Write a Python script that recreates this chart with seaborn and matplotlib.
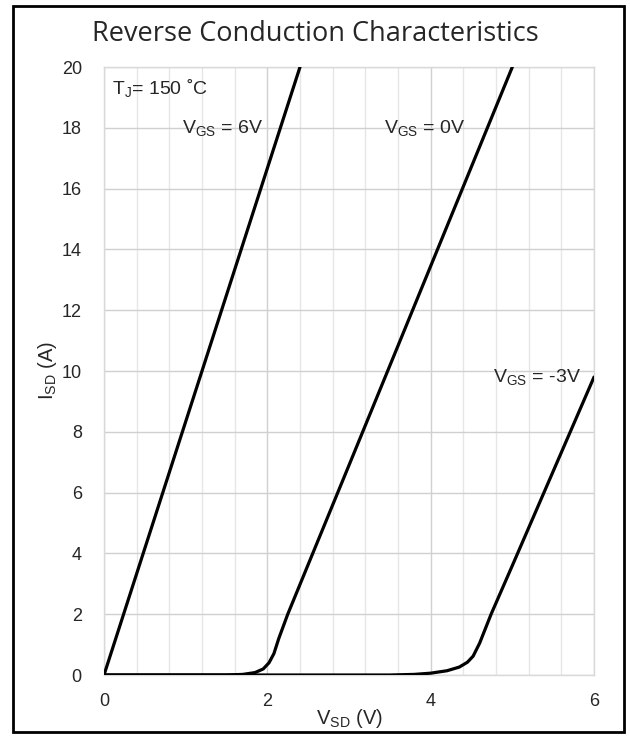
import matplotlib
matplotlib.use("Agg")
import matplotlib.pyplot as plt
from matplotlib.ticker import MultipleLocator
from matplotlib.patches import Rectangle
import seaborn as sns
import pandas as pd

# Data
v_6 = [0.0, 0.6, 1.2, 1.8, 2.4]
i_6 = [0.0, 5.0, 10.0, 15.0, 20.0]

v_0 = [0.0, 1.0, 1.5, 1.7, 1.85, 1.95, 2.02, 2.08, 2.14, 2.25, 3.0, 4.0, 5.0]
i_0 = [0.0, 0.0, 0.0, 0.02, 0.08, 0.2, 0.4, 0.7, 1.2, 2.0, 6.9, 13.45, 20.0]

v_m3 = [0.0, 2.0, 3.5, 3.8, 4.0, 4.2, 4.35, 4.45, 4.52, 4.6, 4.74, 5.0, 5.5, 6.0]
i_m3 = [0.0, 0.0, 0.0, 0.02, 0.06, 0.14, 0.26, 0.42, 0.62, 1.05, 2.0, 3.6, 6.7, 9.8]

series_names = ["VGS=6V", "VGS=0V", "VGS=-3V"]
x_ticks = [0, 2, 4, 6]
y_ticks = [0, 2, 4, 6, 8, 10, 12, 14, 16, 18, 20]

frames = []
for name, v, i in zip(series_names, [v_6, v_0, v_m3], [i_6, i_0, i_m3]):
    frames.append(pd.DataFrame({"V": v, "I": i, "series": name}))
df = pd.concat(frames, ignore_index=True)

sns.set_style("white")
plt.rcParams["font.family"] = ["Liberation Sans", "DejaVu Sans"]

fig = plt.figure(figsize=(6.3, 7.36), dpi=100)
ax = fig.add_axes([104 / 630, 1 - 675 / 736, 490 / 630, 608 / 736])

ax.set_axisbelow(True)
sns.lineplot(data=df, x="V", y="I", units="series", estimator=None, sort=False,
             color="black", linewidth=2.3, ax=ax, legend=False, zorder=3)

ax.set_xlim(0, 6)
ax.set_ylim(0, 20)
ax.set_xticks(x_ticks)
ax.set_yticks(y_ticks)
ax.xaxis.set_minor_locator(MultipleLocator(0.4))
ax.grid(which="major", color="#d0d0d0", linewidth=1.0)
ax.grid(which="minor", axis="x", color="#e6e6e6", linewidth=1.0)
for s in ax.spines.values():
    s.set_color("#d9d9d9")
    s.set_linewidth(1.0)
ax.tick_params(which="both", length=0)
ax.tick_params(axis="x", pad=13, labelsize=13)
ax.tick_params(axis="y", pad=16, labelsize=13)

ax.set_xlabel("V$_{\\mathregular{SD}}$ (V)", fontsize=14.5, labelpad=-2)
ax.set_ylabel("I$_{\\mathregular{SD}}$ (A)", fontsize=14.5, labelpad=2)

ax.text(0.1, 19.1, "T$_{\\mathregular{J}}$= 150 ˚C", fontsize=14, va="baseline")
ax.text(0.95, 17.8, "V$_{\\mathregular{GS}}$ = 6V", fontsize=14, va="baseline")
ax.text(3.43, 17.8, "V$_{\\mathregular{GS}}$ = 0V", fontsize=14, va="baseline")
ax.text(4.76, 9.6, "V$_{\\mathregular{GS}}$ = -3V", fontsize=14, va="baseline")

fig.text(0.5, 1 - 34 / 736, "Reverse Conduction Characteristics",
         ha="center", va="center", fontsize=19.5, family=["Open Sans", "DejaVu Sans"])

fig.patches.append(Rectangle((13 / 630, 1 - 732 / 736), 611 / 630, 726 / 736,
                             transform=fig.transFigure, fill=False,
                             edgecolor="black", linewidth=2.0))

fig.savefig("out.png", dpi=100)
